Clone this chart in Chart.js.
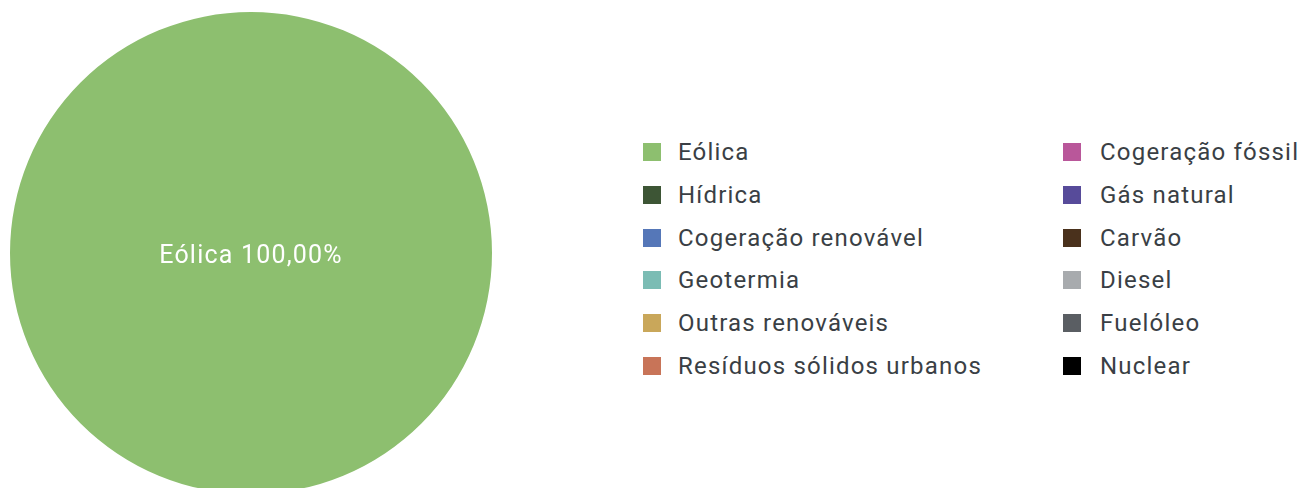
<!DOCTYPE html>
<html>
<head>
<meta charset="utf-8">
<script src="https://cdn.jsdelivr.net/npm/chart.js@4"></script>
<style>
  html, body { margin: 0; padding: 0; background: #fff; overflow: hidden; width: 1300px; height: 488px; }
  #pieBox { position: absolute; left: 10px; top: 12px; width: 482px; height: 482px; }
  .legend { position: absolute; top: 131px; font-family: Roboto, sans-serif; font-size: 24px; letter-spacing: 1.2px; color: #3a3f45; }
  .legend .item { display: flex; align-items: center; height: 42.7px; white-space: nowrap; }
  .legend .box { width: 18px; height: 18px; margin-right: 17px; flex: none; }
  #legCol2 .box { margin-right: 19px; }
</style>
</head>
<body>
<div id="pieBox"><canvas id="pie"></canvas></div>
<div class="legend" id="legCol1" style="left:643px"></div>
<div class="legend" id="legCol2" style="left:1063px"></div>
<script>
"use strict";

const labels = ['Eólica', 'Hídrica', 'Cogeração renovável', 'Geotermia', 'Outras renováveis',
  'Resíduos sólidos urbanos', 'Cogeração fóssil', 'Gás natural', 'Carvão', 'Diesel', 'Fuelóleo', 'Nuclear'];
const shares = [100, 0, 0, 0, 0, 0, 0, 0, 0, 0, 0, 0];
const colors = ['#8dbf6f', '#3d5535', '#5577b8', '#7bbcb4', '#c9a75a', '#c87458',
  '#b9579a', '#574b9a', '#4a311c', '#a8abae', '#5a5e63', '#000000'];

(() => {
  // legend: two columns of six, filled top to bottom
  labels.forEach((name, i) => {
    const col = document.getElementById(i < 6 ? 'legCol1' : 'legCol2');
    const row = document.createElement('div');
    row.className = 'item';
    const box = document.createElement('span');
    box.className = 'box';
    box.style.background = colors[i];
    row.appendChild(box);
    row.appendChild(document.createTextNode(name));
    col.appendChild(row);
  });

  const fmt = (v) => v.toFixed(2).replace('.', ',') + '%';

  // writes "name value%" on each non-empty slice
  const sliceLabels = {
    id: 'sliceLabels',
    afterDatasetsDraw(chart) {
      const ctx = chart.ctx;
      const meta = chart.getDatasetMeta(0);
      ctx.save();
      ctx.fillStyle = '#ffffff';
      ctx.font = '25px Roboto, sans-serif';
      ctx.letterSpacing = '1.2px';
      ctx.textAlign = 'center';
      ctx.textBaseline = 'middle';
      meta.data.forEach((arc, i) => {
        const v = chart.data.datasets[0].data[i];
        if (!v) return;
        let pos = arc.tooltipPosition();
        if (v >= 100) pos = { x: arc.x, y: arc.y };
        ctx.fillText(chart.data.labels[i] + ' ' + fmt(v), pos.x, pos.y + 4);
      });
      ctx.restore();
    }
  };

  new Chart(document.getElementById('pie'), {
    type: 'pie',
    data: {
      labels: labels,
      datasets: [{ data: shares, backgroundColor: colors, borderWidth: 0 }]
    },
    options: {
      responsive: true,
      maintainAspectRatio: false,
      animation: false,
      layout: { padding: 0 },
      plugins: { legend: { display: false }, tooltip: { enabled: false } }
    },
    plugins: [sliceLabels]
  });
})();
</script>
</body>
</html>
